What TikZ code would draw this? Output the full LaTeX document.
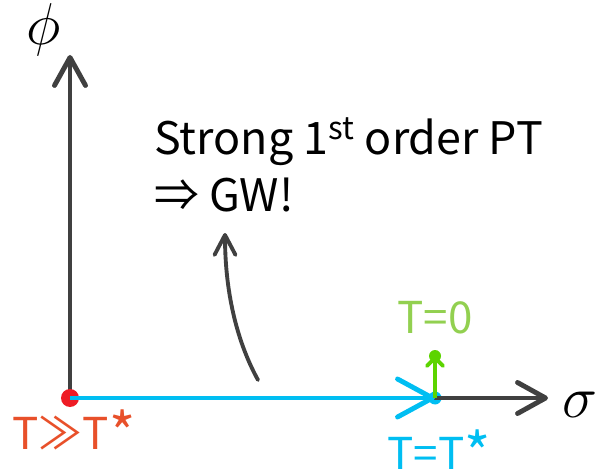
\documentclass[tikz,border=0pt]{standalone}
\usepackage{fontspec}
\usepackage{graphicx}
\setmainfont{Noto Sans CJK SC}
\usetikzlibrary{arrows.meta, positioning, calc}

\definecolor{axisgray}{HTML}{404040}
\definecolor{flowblue}{HTML}{00BEF2}
\definecolor{hotred}{HTML}{EE1C25}
\definecolor{hottext}{HTML}{E8502A}
\definecolor{zerogreen}{HTML}{5CD400}
\definecolor{zerotext}{HTML}{92D050}

% large asterisk like the one in the labels
\newcommand{\bigast}{\raisebox{-0.1em}{\fontsize{32}{32}\selectfont *}}
% big math letters for the axes
\newcommand{\axisname}[1]{\scalebox{1.35}{\Huge$#1$}}

\begin{document}
\begin{tikzpicture}[
    x=0.02cm, y=-0.02cm, % pixel-like units, y pointing down
    >={Straight Barb[round, length=0.56cm, width=0.62cm]}, % open chevron tips
    axis/.style={axisgray, line width=2.8pt, line cap=round},
    dot/.style={circle, inner sep=0pt, minimum size=#1},
    label text/.style={font=\fontsize{25}{28}\selectfont, inner sep=0pt}
]
    % Fix the canvas to the reference size
    \useasboundingbox (0,0) rectangle (598,476);

    % Points on the (sigma, phi) plane
    \coordinate (origin) at (70,398);
    \coordinate (phitip) at (70,55);
    \coordinate (sigtip) at (548,398);
    \coordinate (bend) at (258,380);
    \coordinate (bendtip) at (225,233);

    % Axes
    \draw[axis, ->] (origin) -- (phitip);
    \node[inner sep=0pt] (phi) at (44,30) {\axisname{\phi}};
    \node[inner sep=0pt] (sigma) at (580,405) {\axisname{\sigma}};

    % Dots for the three temperatures
    \node[dot=0.36cm, fill=hotred] (hot) at (origin) {};
    \node[dot=0.26cm, fill=flowblue] (tstar) at (435,398) {};
    \node[dot=0.24cm, fill=zerogreen] (zero) at (435,356) {};

    \draw[axis, ->] (tstar.center) -- (sigtip);

    % Cooling path along the sigma axis
    \draw[flowblue, line width=2.8pt,
        -{Straight Barb[round, length=0.7cm, width=0.76cm]}]
        (hot.center) -- (tstar.center);

    % Transition towards phi at T=0
    \draw[zerogreen, line width=2.2pt,
        -{Straight Barb[round, length=0.16cm, width=0.32cm]}]
        (tstar.center) -- (zero.center);

    % Hand-drawn style arrow up to the text
    \draw[axisgray, line width=2.2pt, line cap=round,
        -{Straight Barb[round, length=0.4cm, width=0.42cm]}]
        (bend) .. controls (236,340) and (225,290) .. (bendtip);

    % Labels
    \node[label text, text=hottext] (hotlabel) at (74,432) {T≫T\bigast};
    \node[label text, text=flowblue] (tstarlabel) at (439,452) {T=T\bigast};
    \node[label text, text=zerotext] (zerolabel) at (435,318) {T=0};

    \node[anchor=base west, font=\fontsize{25.5}{30}\selectfont] (strong) at (148,155)
        {Strong 1\textsuperscript{st} order PT};
    \node[anchor=base west, font=\fontsize{25.5}{30}\selectfont] (gw) at (148,212)
        {⇒ GW!};

\end{tikzpicture}
\end{document}
